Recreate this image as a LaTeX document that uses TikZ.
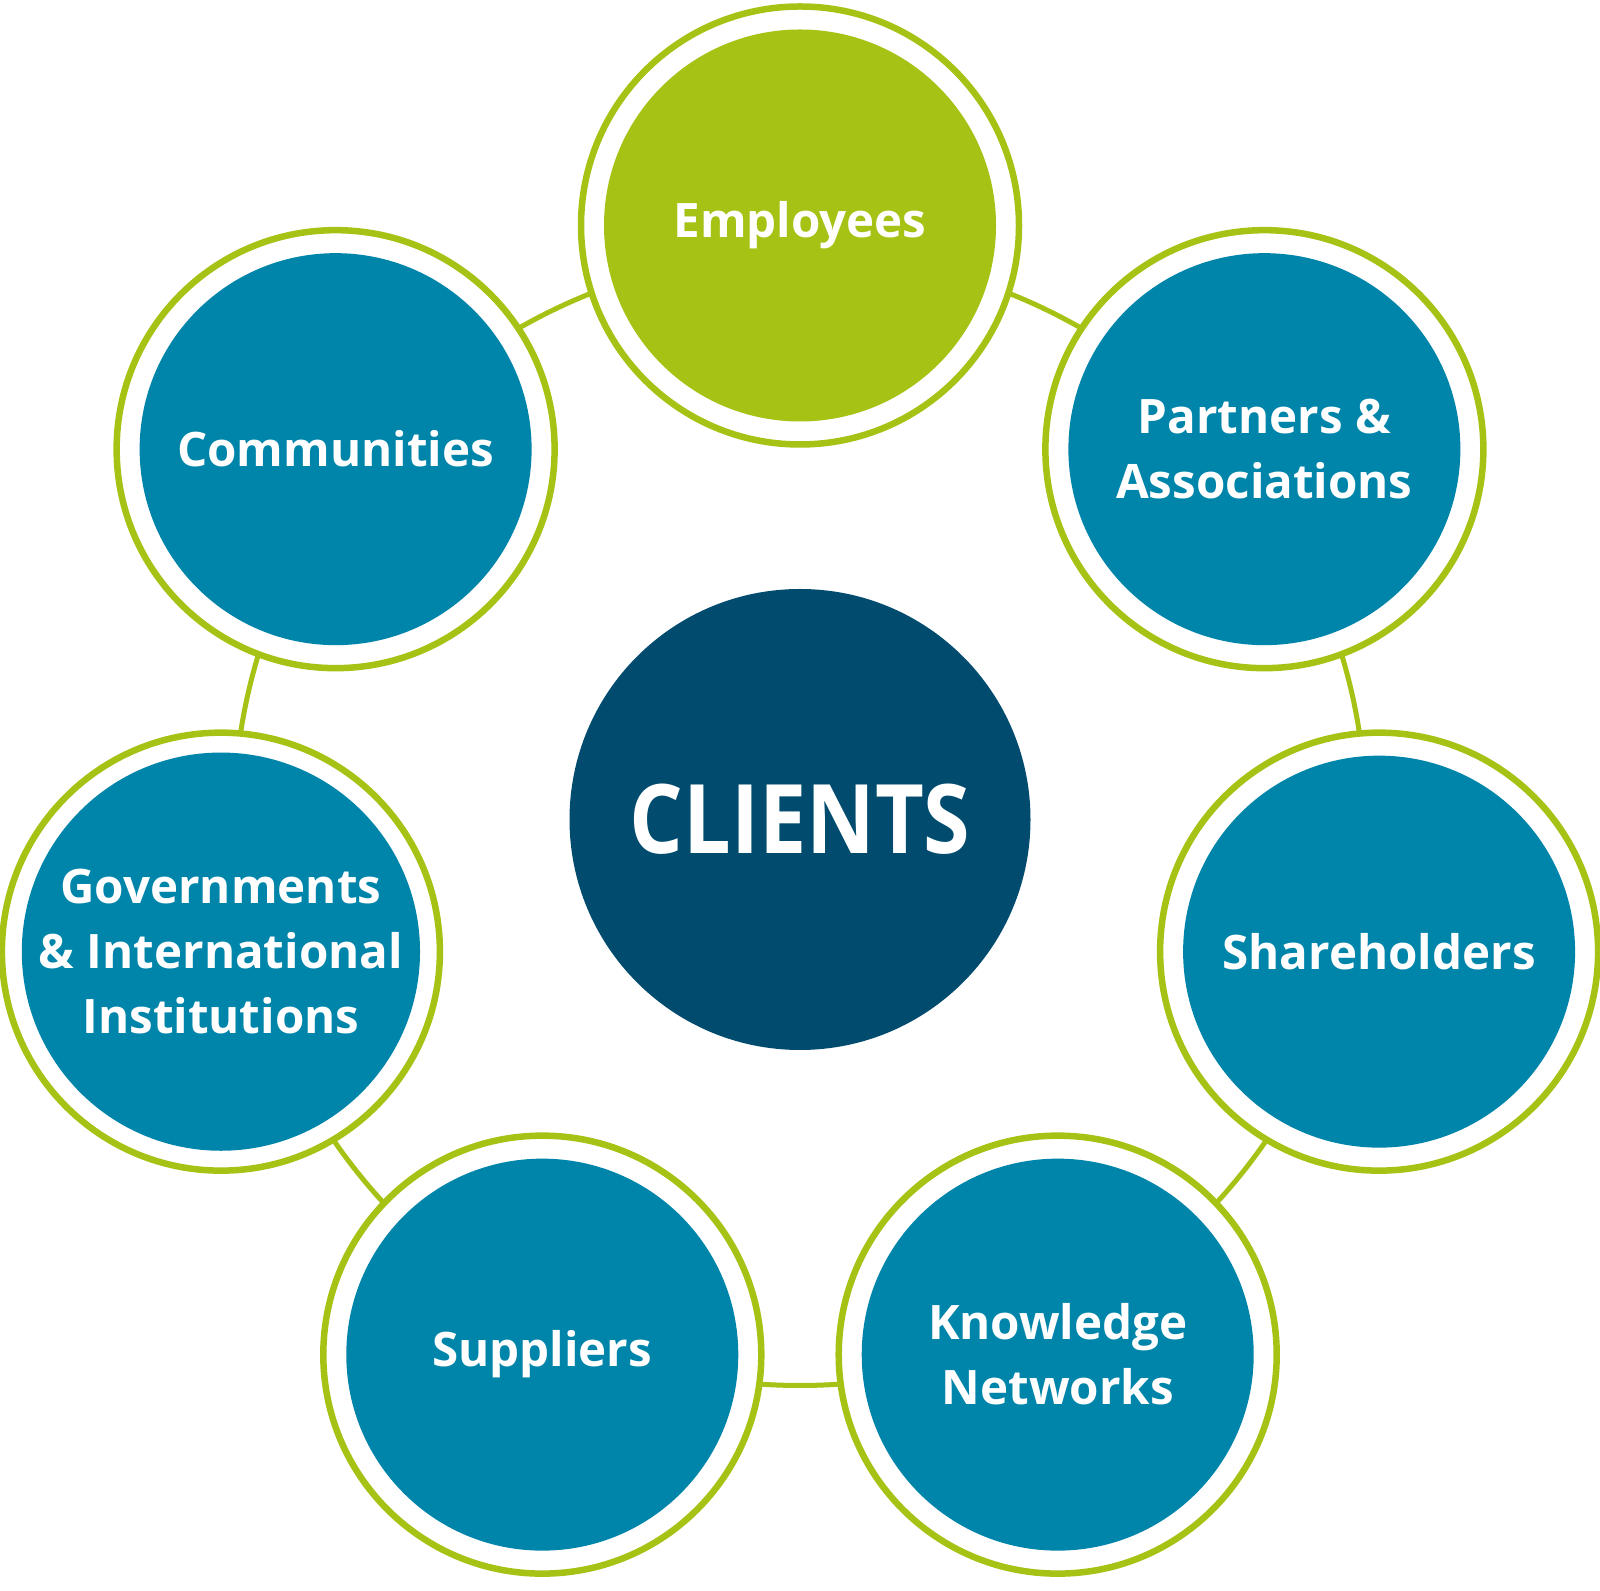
\documentclass[tikz,border=0pt]{standalone}
\usepackage{fontspec}
\setmainfont{Open Sans}
\newfontfamily\clientsfont{Open Sans}[FakeStretch=0.88]
\usetikzlibrary{calc}
\definecolor{sgreen}{HTML}{A5C215}
\definecolor{steal}{HTML}{0085AA}
\definecolor{snavy}{HTML}{004B6E}
\begin{document}
\begin{tikzpicture}[x=1pt,y=1pt,
  ring/.style={circle,draw=sgreen,line width=6.5pt,fill=white,minimum size=438pt,inner sep=0pt},
  disc/.style={circle,fill=steal,minimum size=392pt,inner sep=0pt,text=white,align=center,
    font=\fontsize{47.5}{65}\selectfont\bfseries},
  link/.style={draw=sgreen,line width=5pt}]
\useasboundingbox (0,0) rectangle (1600,1590);
\node[circle,fill=snavy,minimum size=461pt,inner sep=0pt,text=white,
  font=\clientsfont\fontsize{96}{100}\selectfont\bfseries] (clients) at (800,770.5) {CLIENTS};
\draw[link] (clients.center) circle (566);
% Employees
\node[ring] (empR) at ($(clients.center)+(90:594)$) {};
\node[disc,fill=sgreen] (emp) at (empR.center) {Employees};
% Partners
\node[ring] (parR) at ($(clients.center)+(38.571:594)$) {};
\node[disc] (par) at (parR.center) {Partners \&\\Associations};
% Shareholders
\node[ring] (shaR) at ($(clients.center)+(-12.857:594)$) {};
\node[disc] (sha) at (shaR.center) {Shareholders};
% Knowledge Networks
\node[ring] (knoR) at ($(clients.center)+(-64.286:594)$) {};
\node[disc] (kno) at (knoR.center) {Knowledge\\Networks};
% Suppliers
\node[ring] (supR) at ($(clients.center)+(-115.714:594)$) {};
\node[disc] (sup) at (supR.center) {Suppliers};
% Governments
\node[ring] (govR) at ($(clients.center)+(-167.143:594)$) {};
\node[disc] (gov) at (govR.center) {Governments\\\& International\\Institutions};
% Communities
\node[ring] (comR) at ($(clients.center)+(141.429:594)$) {};
\node[disc] (com) at (comR.center) {Communities};
\end{tikzpicture}
\end{document}
